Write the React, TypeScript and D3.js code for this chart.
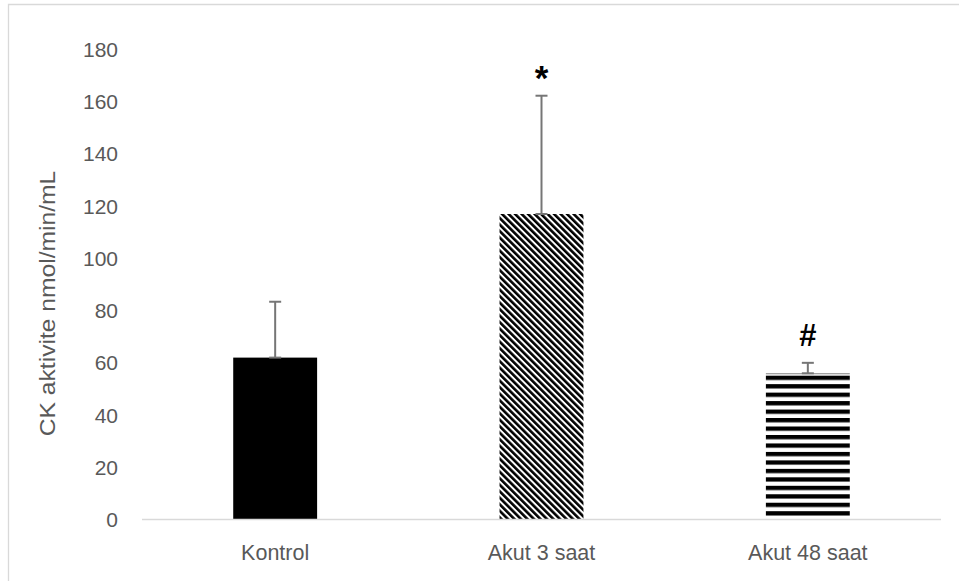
import React from "react";
import * as d3 from "d3";

const categories = ["Kontrol", "Akut 3 saat", "Akut 48 saat"];
const means = [62, 117, 56];
const upperErrors = [83.4, 162.3, 60];
const marks = ["", "*", "#"];
const yTicks = [0, 20, 40, 60, 80, 100, 120, 140, 160, 180];
const yLabel = "CK aktivite nmol/min/mL";

const W = 959;
const H = 581;
const TEXT = "#595959";
const FONT = "'Liberation Sans', Arial, sans-serif";

export default function App() {
  const x = d3
    .scaleBand<string>()
    .domain(categories)
    .range([142, 941])
    .paddingInner(0.685)
    .paddingOuter(0.3425);
  const y = d3.scaleLinear().domain([0, 180]).range([519.5, 49.5]);
  const bw = x.bandwidth();
  const fills = ["#000000", "url(#diagDown)", "url(#horiz)"];
  const stripeTop = y(means[2]) + 2.4;

  return (
    <svg
      width={W}
      height={H}
      style={{ position: "absolute", left: 0, top: 0, background: "#fff" }}
      fontFamily={FONT}
    >
      <defs>
        <pattern
          id="diagDown"
          patternUnits="userSpaceOnUse"
          width={4.6}
          height={10}
          patternTransform="rotate(-45)"
        >
          <rect width={4.6} height={10} fill="#fff" />
          <rect width={2.6} height={10} fill="#000" />
        </pattern>
        <pattern
          id="horiz"
          patternUnits="userSpaceOnUse"
          width={10}
          height={8.47}
          y={stripeTop}
        >
          <rect width={10} height={8.47} fill="#fff" />
          <rect width={10} height={4.3} fill="#000" />
        </pattern>
      </defs>

      {/* chart frame */}
      <path d="M8.5,590 V4.5 H970" fill="none" stroke="#d9d9d9" strokeWidth={1.3} />

      {/* y tick labels */}
      {yTicks.map((t) => (
        <text
          key={t}
          x={118}
          y={y(t)}
          textAnchor="end"
          dominantBaseline="central"
          fontSize={21}
          fill={TEXT}
        >
          {t}
        </text>
      ))}

      {/* y axis title */}
      <text
        transform={`translate(47,${(170 + 437) / 2}) rotate(-90) scale(1.12,1)`}
        textAnchor="middle"
        dominantBaseline="central"
        fontSize={22}
        fill={TEXT}
      >
        {yLabel}
      </text>

      {/* bars */}
      {categories.map((c, i) => (
        <rect
          key={c}
          x={x(c)}
          y={y(means[i])}
          width={bw}
          height={y(0) - y(means[i])}
          fill={fills[i]}
        />
      ))}
      <line
        x1={x(categories[2])}
        x2={x(categories[2])! + bw}
        y1={y(means[2]) + 0.5}
        y2={y(means[2]) + 0.5}
        stroke="#808080"
        strokeWidth={1}
      />

      {/* x axis */}
      <line x1={142} x2={941} y1={y(0)} y2={y(0)} stroke="#d9d9d9" strokeWidth={1.5} />

      {/* error bars */}
      {categories.map((c, i) => {
        const cx = x(c)! + bw / 2;
        return (
          <g key={c} stroke="#767676" strokeWidth={2}>
            <line x1={cx} x2={cx} y1={y(means[i])} y2={y(upperErrors[i])} />
            <line x1={cx - 6} x2={cx + 6} y1={y(upperErrors[i])} y2={y(upperErrors[i])} />
            <line x1={cx - 6} x2={cx + 6} y1={y(means[i])} y2={y(means[i])} />
          </g>
        );
      })}

      {/* significance marks */}
      {categories.map((c, i) =>
        marks[i] ? (
          <text
            key={c}
            x={x(c)! + bw / 2}
            y={marks[i] === "*" ? 90 : 346}
            textAnchor="middle"
            fontSize={marks[i] === "*" ? 35 : 31}
            fontWeight="bold"
            fill="#000"
          >
            {marks[i]}
          </text>
        ) : null
      )}

      {/* category labels */}
      {categories.map((c) => (
        <text
          key={c}
          x={x(c)! + bw / 2}
          y={560}
          textAnchor="middle"
          fontSize={21.5}
          fill={TEXT}
        >
          {c}
        </text>
      ))}
    </svg>
  );
}
